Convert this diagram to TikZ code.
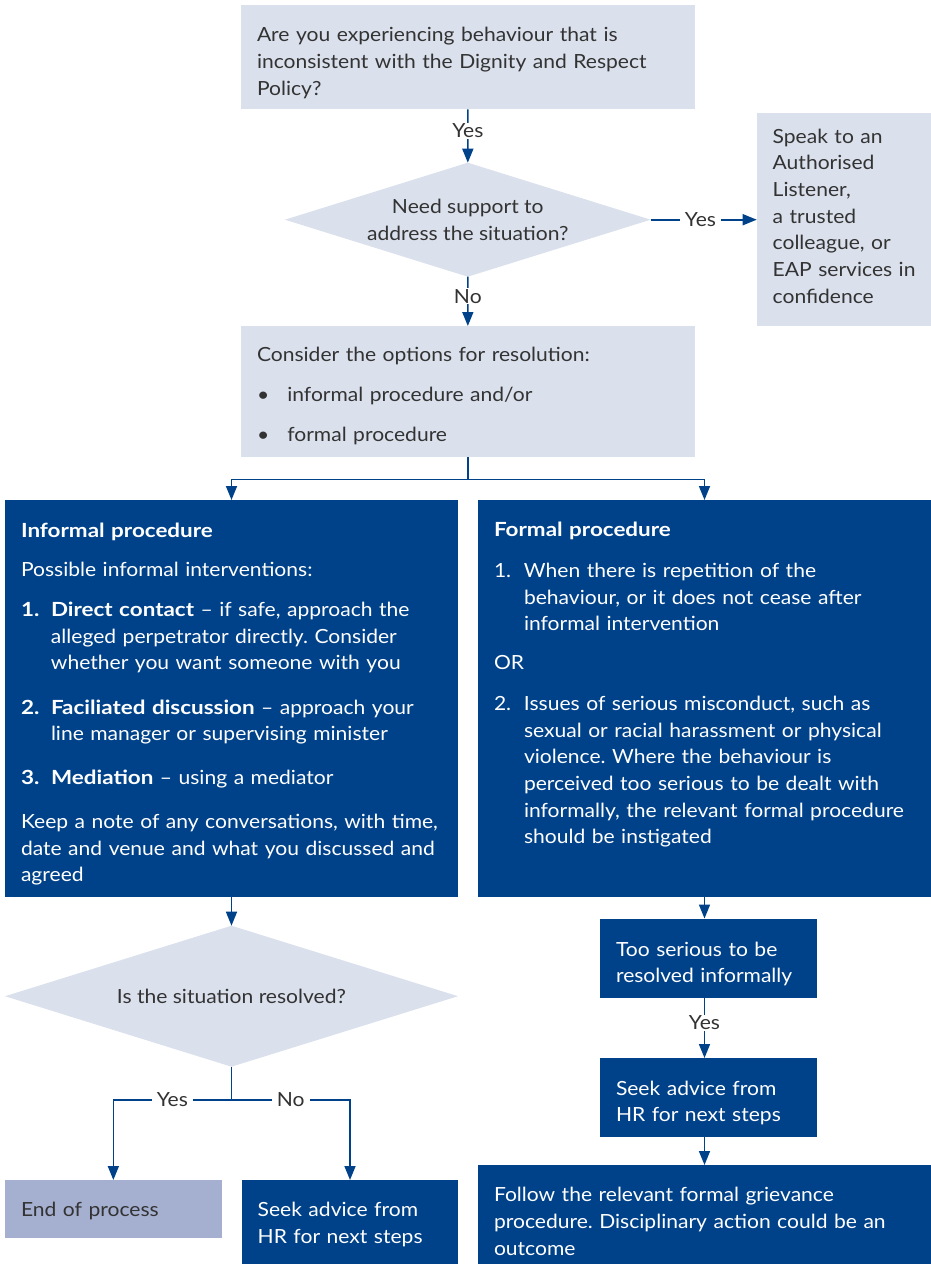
\documentclass[tikz,border=0pt]{standalone}
\usepackage{fontspec}
\setmainfont{Lato}[UprightFeatures={FakeStretch=1.08}, BoldFeatures={FakeStretch=1.15}]
\usetikzlibrary{shapes.geometric,arrows.meta,calc}

\definecolor{navy}{HTML}{00428A}
\definecolor{paleblue}{HTML}{DAE0EC}
\definecolor{lilac}{HTML}{A5AFD0}
\definecolor{inkgrey}{HTML}{333333}

\newcommand\bodyfont{\fontsize{19.5}{26.67}\selectfont\frenchspacing}
\newcommand\nowrap{\rightskip=-24pt plus 1fil\relax}
\newcommand\numitem[2]{\hangindent=30pt\hangafter=1\noindent\makebox[30pt][l]{#1}#2\par}
\newcommand\pgap[1]{\par\vspace{#1pt}}

\tikzset{
    pale/.style={fill=paleblue, text=inkgrey, anchor=north west, inner xsep=16pt,
        inner ysep=0pt, outer sep=0pt, font=\bodyfont},
    dark/.style={pale, fill=navy, text=white},
    ends/.style={pale, fill=lilac},
    ask/.style={diamond, aspect=3.2, fill=paleblue, text=inkgrey, inner sep=0pt, outer sep=0pt,
        align=center, font=\bodyfont},
    conn/.style={draw=navy, line width=1.6pt, -{Triangle[width=11pt,length=14pt]}},
    wire/.style={draw=navy, line width=1.6pt},
    tag/.style={fill=white, text=inkgrey, inner xsep=5pt, inner ysep=1pt, font=\bodyfont}
}

\begin{document}
\begin{tikzpicture}[x=1pt, y=-1pt]
    \useasboundingbox (0,0) rectangle (931,1264);

    % top of the chart
    \node[pale, text width=421.7pt, text height=36.7pt, text depth=67.6pt] (q1) at (241,5)
        {Are you experiencing behaviour that is\\ inconsistent with the Dignity and Respect\\ Policy?};
    \node[ask, minimum width=365.7pt, minimum height=114pt] (d1) at (467.8,219.7)
        {Need support to\\ address the situation?};
    \node[pale, text width=142.3pt, text height=30pt, text depth=182.7pt] (sp) at (756.7,113.3)
        {\nowrap Speak to an\\ Authorised\\ Listener,\\ a trusted\\ colleague, or\\ EAP services in\\ confidence};
    \node[pale, text width=421.7pt, text height=35.7pt, text depth=95.6pt] (opt) at (241,326)
        {Consider the options for resolution:\\[13.3pt]
         \makebox[30.3pt][l]{\textbullet}informal procedure and/or\\[13.3pt]
         \makebox[30.3pt][l]{\textbullet}formal procedure};

    % the two procedures
    \node[dark, text width=421pt, text height=37.3pt, text depth=359.7pt] (inf) at (5,500)
        {\nowrap\textbf{Informal procedure}\pgap{12.7}
         Possible informal interventions:\pgap{13.3}
         \numitem{\textbf{1.}}{\textbf{Direct contact} -- if safe, approach the\newline alleged perpetrator directly. Consider\newline whether you want someone with you}\vspace{17.6pt}
         \numitem{\textbf{2.}}{\textbf{Faciliated discussion} -- approach your\newline line manager or supervising minister}\vspace{16.6pt}
         \numitem{\textbf{3.}}{\textbf{Mediation} -- using a mediator}\vspace{17.6pt}
         Keep a note of any conversations, with time,\\ date and venue and what you discussed and\\ agreed};
    \node[dark, text width=421pt, text height=36.7pt, text depth=360.3pt] (form) at (478,500)
        {\nowrap\textbf{Formal procedure}\pgap{14}
         \numitem{1.}{When there is repetition of the\newline behaviour, or it does not cease after\newline informal intervention}\vspace{12.3pt}
         OR\pgap{14}
         \numitem{2.}{Issues of serious misconduct, such as\newline sexual or racial harassment or physical\newline violence. Where the behaviour is\newline perceived too serious to be dealt with\newline informally, the relevant formal procedure\newline should be instigated}};

    % informal branch
    \node[ask, minimum width=453pt, minimum height=141pt] (d2) at (231.5,996.2)
        {Is the situation resolved?};
    \node[ends, text width=184.7pt, text height=36.7pt, text depth=21pt] (endp) at (5,1180)
        {End of process};
    \node[dark, text width=184.6pt, text height=36.7pt, text depth=47.3pt] (hr1) at (241.7,1180)
        {Seek advice from\\ HR for next steps};

    % formal branch
    \node[dark, text width=184.7pt, text height=37.5pt, text depth=41.7pt] (serious) at (600,918.5)
        {Too serious to be\\ resolved informally};
    \node[dark, text width=184.7pt, text height=37pt, text depth=42pt] (hr2) at (600,1058)
        {Seek advice from\\ HR for next steps};
    \node[dark, text width=421pt, text height=36.7pt, text depth=62.3pt] (follow) at (478,1165)
        {Follow the relevant formal grievance\\ procedure. Disciplinary action could be an\\ outcome};

    % connectors
    \draw[conn] (q1) -- node[tag, pos=0.4] {Yes} (d1);
    \draw[conn] (d1) -- node[tag, pos=0.47] {Yes} (sp.west |- d1.east);
    \draw[conn] (d1) -- node[tag, pos=0.4] {No} (opt);

    \coordinate (fork) at ([yshift=-22pt]opt.south);
    \draw[wire] (opt.south) -- (fork);
    \draw[conn] (fork) -| (inf.north);
    \draw[conn] (fork) -| (form.north);

    \draw[conn] (inf) -- (d2);
    \coordinate (split) at ([yshift=-33.3pt]d2.south);
    \draw[wire] (d2.south) -- (split);
    \draw[conn] (split) -| node[tag, pos=0.25] {Yes} (endp.north);
    \draw[conn] (split) -| node[tag, pos=0.25] {No} (hr1.north);

    \draw[conn] (form.south) -- (form.south |- serious.north);
    \draw[conn] (form.south |- serious.south) -- node[tag, pos=0.42] {Yes} (form.south |- hr2.north);
    \draw[conn] (form.south |- hr2.south) -- (form.south |- follow.north);
\end{tikzpicture}
\end{document}
